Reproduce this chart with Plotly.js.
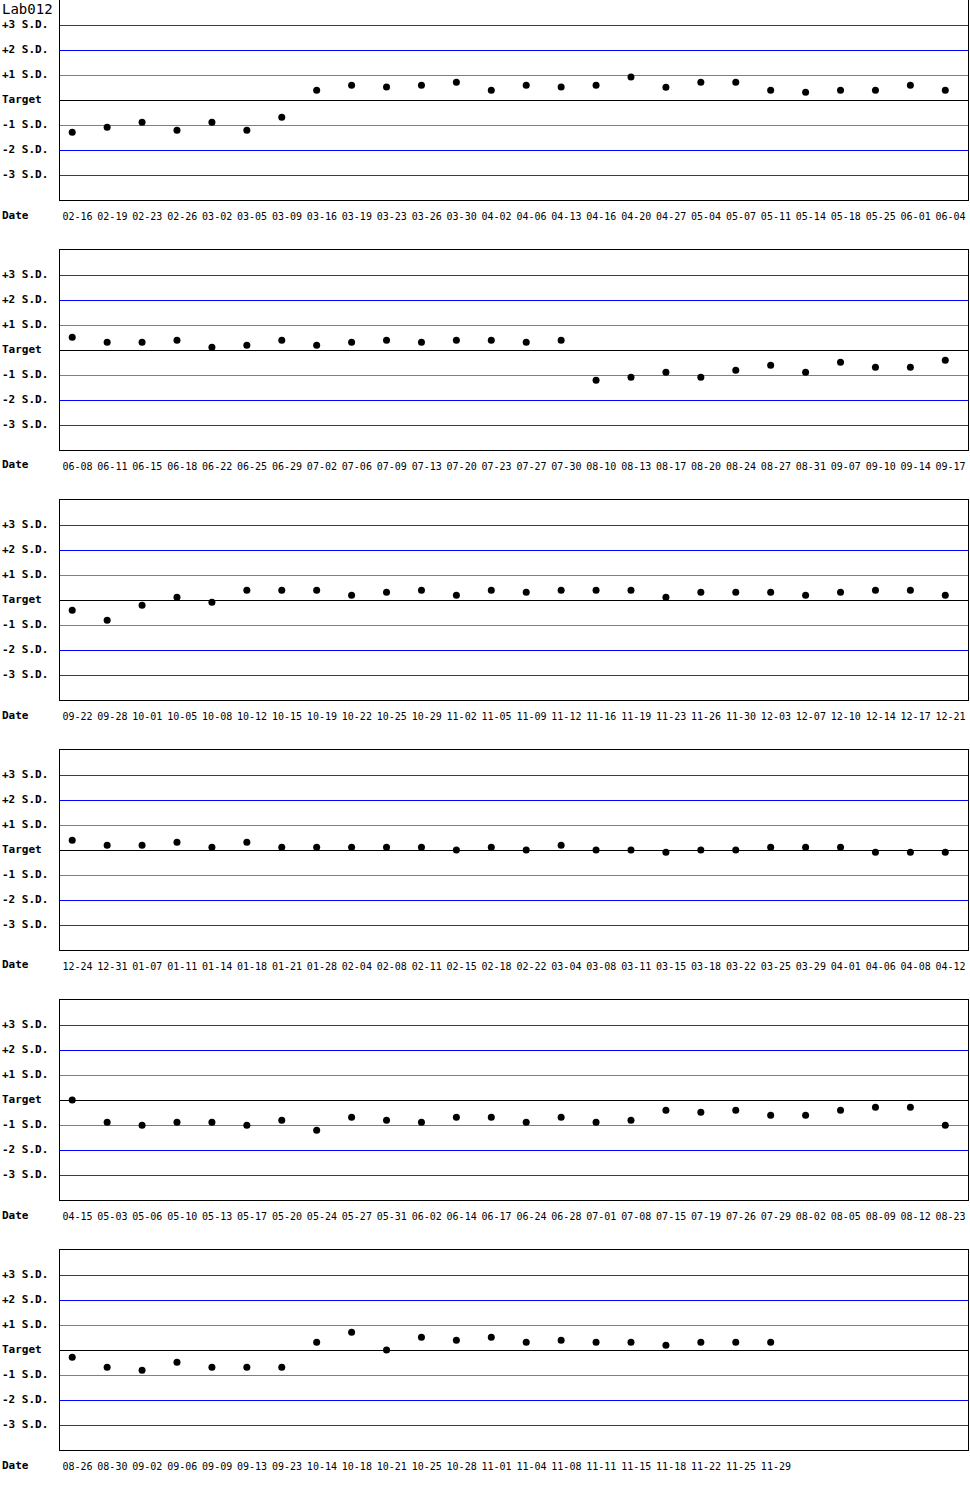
<!DOCTYPE html>
<html>
<head>
<meta charset="utf-8">
<script src="https://cdn.plot.ly/plotly-3.0.1.min.js"></script>
<style>
  body { margin: 0; background: #fff; }
  #chart { width: 970px; height: 1500px; }
  /* keep the 1px reference lines sharp */
  .shapelayer path { shape-rendering: crispEdges; }
</style>
</head>
<body>
<div id="chart"></div>
<script>
// control chart data: dates (MM-DD) and S.D. distance from target, one pair per row
var dates1 = ['02-16','02-19','02-23','02-26','03-02','03-05','03-09','03-16','03-19','03-23','03-26','03-30','04-02',
              '04-06','04-13','04-16','04-20','04-27','05-04','05-07','05-11','05-14','05-18','05-25','06-01','06-04'];
var sd1 = [-1.29,-1.09,-0.89,-1.21,-0.89,-1.21,-0.69,0.39,0.59,0.52,0.59,0.71,0.39,
           0.59,0.52,0.59,0.92,0.51,0.71,0.71,0.39,0.31,0.39,0.39,0.59,0.39];

var dates2 = ['06-08','06-11','06-15','06-18','06-22','06-25','06-29','07-02','07-06','07-09','07-13','07-20','07-23',
              '07-27','07-30','08-10','08-13','08-17','08-20','08-24','08-27','08-31','09-07','09-10','09-14','09-17'];
var sd2 = [0.51,0.31,0.31,0.39,0.11,0.19,0.39,0.19,0.31,0.39,0.31,0.39,0.39,
           0.31,0.39,-1.21,-1.09,-0.89,-1.09,-0.81,-0.61,-0.89,-0.49,-0.69,-0.69,-0.41];

var dates3 = ['09-22','09-28','10-01','10-05','10-08','10-12','10-15','10-19','10-22','10-25','10-29','11-02','11-05',
              '11-09','11-12','11-16','11-19','11-23','11-26','11-30','12-03','12-07','12-10','12-14','12-17','12-21'];
var sd3 = [-0.41,-0.81,-0.21,0.11,-0.09,0.39,0.39,0.39,0.19,0.31,0.39,0.19,0.39,
           0.31,0.39,0.39,0.39,0.11,0.31,0.31,0.31,0.19,0.31,0.39,0.39,0.19];

var dates4 = ['12-24','12-31','01-07','01-11','01-14','01-18','01-21','01-28','02-04','02-08','02-11','02-15','02-18',
              '02-22','03-04','03-08','03-11','03-15','03-18','03-22','03-25','03-29','04-01','04-06','04-08','04-12'];
var sd4 = [0.39,0.19,0.19,0.31,0.11,0.31,0.11,0.11,0.11,0.11,0.11,0,0.11,
           0,0.19,0,0,-0.09,0,0,0.11,0.11,0.11,-0.09,-0.09,-0.09];

var dates5 = ['04-15','05-03','05-06','05-10','05-13','05-17','05-20','05-24','05-27','05-31','06-02','06-14','06-17',
              '06-24','06-28','07-01','07-08','07-15','07-19','07-26','07-29','08-02','08-05','08-09','08-12','08-23'];
var sd5 = [0,-0.89,-1.01,-0.89,-0.89,-1.01,-0.81,-1.21,-0.69,-0.81,-0.89,-0.69,-0.69,
           -0.89,-0.69,-0.89,-0.81,-0.41,-0.49,-0.41,-0.61,-0.61,-0.41,-0.29,-0.29,-1.01];

var dates6 = ['08-26','08-30','09-02','09-06','09-09','09-13','09-23','10-14','10-18','10-21','10-25','10-28','11-01',
              '11-04','11-08','11-11','11-15','11-18','11-22','11-25','11-29'];
var sd6 = [-0.29,-0.69,-0.81,-0.49,-0.69,-0.69,-0.69,0.31,0.71,0,0.51,0.39,0.51,
           0.31,0.39,0.31,0.31,0.19,0.31,0.31,0.31];

var sdLevels = [3, 2, 1, 0, -1, -2, -3];
var sdLabels = ['+3 S.D.', '+2 S.D.', '+1 S.D.', 'Target', '-1 S.D.', '-2 S.D.', '-3 S.D.'];
var sdColors = ['#cc0000', '#0000ff', '#808080', '#000000', '#808080', '#0000ff', '#cc0000'];

var rows = [
  {dates: dates1, sd: sd1},
  {dates: dates2, sd: sd2},
  {dates: dates3, sd: sd3},
  {dates: dates4, sd: sd4},
  {dates: dates5, sd: sd5},
  {dates: dates6, sd: sd6}
];

var SLOTS = 26;          // columns per row
var PANEL_H = 200, GAP = 50;
var MT = 0, MB = 50, ML = 60, MR = 2;
var plotH = 1500 - MT - MB;
var mono = 'DejaVu Sans Mono, Liberation Mono, monospace';

var data = [];
var shapes = [];
var annotations = [];
var layout = {
  width: 970,
  height: 1500,
  margin: {l: ML, r: MR, t: MT, b: MB},
  paper_bgcolor: '#fff',
  plot_bgcolor: '#fff',
  showlegend: false,
  font: {family: mono, size: 10, color: '#000'}
};

rows.forEach(function(row, k) {
  var n = k + 1;
  var xa = 'x' + (k ? n : '');
  var ya = 'y' + (k ? n : '');
  var top = k * (PANEL_H + GAP);
  var dom = [1 - (top + PANEL_H) / plotH, 1 - top / plotH];

  // points sit a bit left of the column centre, labels at the centre
  data.push({
    type: 'scatter',
    mode: 'markers',
    x: row.sd.map(function(v, i) { return i + 0.35; }),
    y: row.sd,
    xaxis: xa,
    yaxis: ya,
    marker: {color: '#000', size: 7},
    cliponaxis: false,
    hoverinfo: 'skip'
  });

  layout['xaxis' + (k ? n : '')] = {
    anchor: ya,
    domain: [0, 1],
    range: [0, SLOTS],
    tickvals: row.dates.map(function(d, i) { return i + 0.5; }),
    ticktext: row.dates,
    ticks: '',
    tickfont: {family: mono, size: 10, color: '#000'},
    ticklabelstandoff: 7,
    showgrid: false,
    zeroline: false,
    showline: true,
    mirror: true,
    linecolor: '#000',
    linewidth: 1
  };
  layout['yaxis' + (k ? n : '')] = {
    anchor: xa,
    domain: dom,
    range: [-4, 4],
    showticklabels: false,
    ticks: '',
    showgrid: false,
    zeroline: false,
    showline: true,
    mirror: true,
    linecolor: '#000',
    linewidth: 1
  };

  sdLevels.forEach(function(lv, j) {
    shapes.push({
      type: 'line', layer: 'below',
      xref: xa + ' domain', yref: ya,
      x0: 0, x1: 1, y0: lv, y1: lv,
      line: {color: sdColors[j], width: 1}
    });
    annotations.push({
      xref: 'paper', yref: ya,
      x: 0, y: lv, xshift: -ML, yshift: 1,
      xanchor: 'left', yanchor: 'middle',
      text: '<b>' + sdLabels[j] + '</b>',
      font: {family: mono, size: 11, color: '#000'},
      showarrow: false
    });
  });

  annotations.push({
    xref: 'paper', yref: ya + ' domain',
    x: 0, y: 0, xshift: -ML, yshift: -15,
    xanchor: 'left', yanchor: 'middle',
    text: '<b>Date</b>',
    font: {family: mono, size: 11, color: '#000'},
    showarrow: false
  });
});

annotations.push({
  xref: 'paper', yref: 'paper',
  x: 0, y: 1, xshift: -ML, yshift: 1,
  xanchor: 'left', yanchor: 'top',
  text: 'Lab012',
  font: {family: mono, size: 14, color: '#000'},
  showarrow: false
});

layout.shapes = shapes;
layout.annotations = annotations;

Plotly.newPlot('chart', data, layout, {displayModeBar: false, staticPlot: true});
</script>
</body>
</html>
